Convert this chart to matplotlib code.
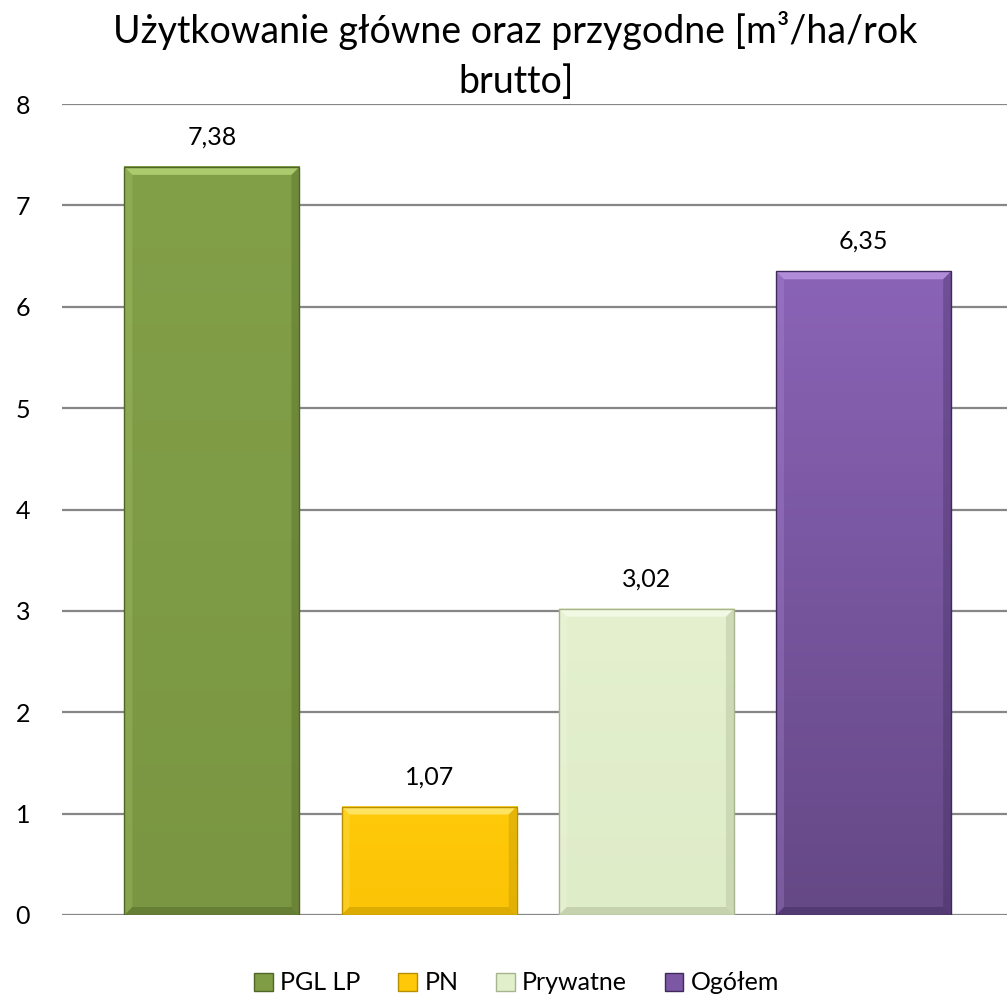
import matplotlib
matplotlib.use("Agg")
import matplotlib.pyplot as plt
from matplotlib.patches import Polygon, Patch
from matplotlib.colors import LinearSegmentedColormap
import numpy as np

categories = ["PGL LP", "PN", "Prywatne", "Ogółem"]
values = [7.38, 1.07, 3.02, 6.35]
value_labels = ["7,38", "1,07", "3,02", "6,35"]
yticks = [0, 1, 2, 3, 4, 5, 6, 7, 8]
title_lines = ["Użytkowanie główne oraz przygodne [m³/ha/rok", "brutto]"]

colors = ["#7F9D45", "#FFC809", "#E2EFCB", "#7C58A4"]
light = ["#B4D275", "#FFE870", "#F4FAE8", "#B895E0"]
dark = ["#4F6526", "#B88F00", "#A8B48E", "#3E2A5C"]
grad_top = ["#82A048", "#FFCA0A", "#E4F0CE", "#8A63B6"]
grad_bot = ["#7A9642", "#FBC406", "#DFECC8", "#654886"]

plt.rcParams["font.family"] = ["Lato", "DejaVu Sans"]

fig = plt.figure(figsize=(10.07, 9.97), dpi=100)
ax = fig.add_axes([62 / 1007, 1 - 915 / 997, 1 - 62 / 1007, (915 - 104) / 997])

x = np.arange(len(categories))
width = 0.806
ax.set_xlim(-0.69, 3.66)
ax.set_ylim(0, 8)

bars = ax.bar(x, values, width=width, color=colors, edgecolor="none", zorder=2)


def px_to_data_x(px):
    return px * (ax.get_xlim()[1] - ax.get_xlim()[0]) / (ax.get_position().width * fig.bbox.width)


def px_to_data_y(px):
    return px * (ax.get_ylim()[1] - ax.get_ylim()[0]) / (ax.get_position().height * fig.bbox.height)


bx = px_to_data_x(8)
by = px_to_data_y(8)
for i, b in enumerate(bars):
    x0, x1 = b.get_x(), b.get_x() + b.get_width()
    y0, y1 = 0, b.get_height()
    grad = np.linspace(0, 1, 100).reshape(-1, 1)
    cmap = LinearSegmentedColormap.from_list("g%d" % i, [grad_bot[i], grad_top[i]])
    ax.imshow(grad, extent=(x0, x1, y0, y1), origin="lower", cmap=cmap,
              aspect="auto", zorder=2.1)
    ax.add_patch(Polygon([(x0, y1), (x1, y1), (x1 - bx, y1 - by), (x0 + bx, y1 - by)],
                         closed=True, color=light[i], alpha=0.85, lw=0, zorder=3))
    ax.add_patch(Polygon([(x0, y1), (x0 + bx, y1 - by), (x0 + bx, y0 + by), (x0, y0)],
                         closed=True, color=light[i], alpha=0.25, lw=0, zorder=3))
    ax.add_patch(Polygon([(x1, y1), (x1 - bx, y1 - by), (x1 - bx, y0 + by), (x1, y0)],
                         closed=True, color=dark[i], alpha=0.35, lw=0, zorder=3))
    ax.add_patch(Polygon([(x0, y0), (x1, y0), (x1 - bx, y0 + by), (x0 + bx, y0 + by)],
                         closed=True, color=dark[i], alpha=0.45, lw=0, zorder=3))
    ax.add_patch(Polygon([(x0, y0), (x0, y1), (x1, y1), (x1, y0)], closed=True,
                         fill=False, edgecolor=dark[i], lw=1.0, zorder=3.5))
    ax.text(x[i], values[i] + 0.22, value_labels[i], ha="center", va="baseline",
            fontsize=18, zorder=4)

ax.set_yticks(yticks)
ax.set_yticklabels([str(t) for t in yticks], fontsize=18)
ax.tick_params(axis="y", length=0, pad=23)
ax.set_xticks([])
ax.grid(axis="y", color="#868686", lw=1.6, zorder=0)
ax.set_axisbelow(True)
for s in ax.spines.values():
    s.set_visible(False)

fig.text(0.512, 1 - 43 / 997, title_lines[0], ha="center", va="baseline", fontsize=27)
fig.text(0.512, 1 - 93 / 997, title_lines[1], ha="center", va="baseline", fontsize=27)

handles = [Patch(facecolor=colors[i], edgecolor=dark[i], lw=1.0) for i in range(4)]
fig.legend(handles, categories, loc="lower center", bbox_to_anchor=(0.513, -0.02),
           ncol=4, frameon=False, fontsize=18, handlelength=0.75, handleheight=0.75,
           handletextpad=0.3, columnspacing=1.5)

fig.savefig("out.png", dpi=100)
